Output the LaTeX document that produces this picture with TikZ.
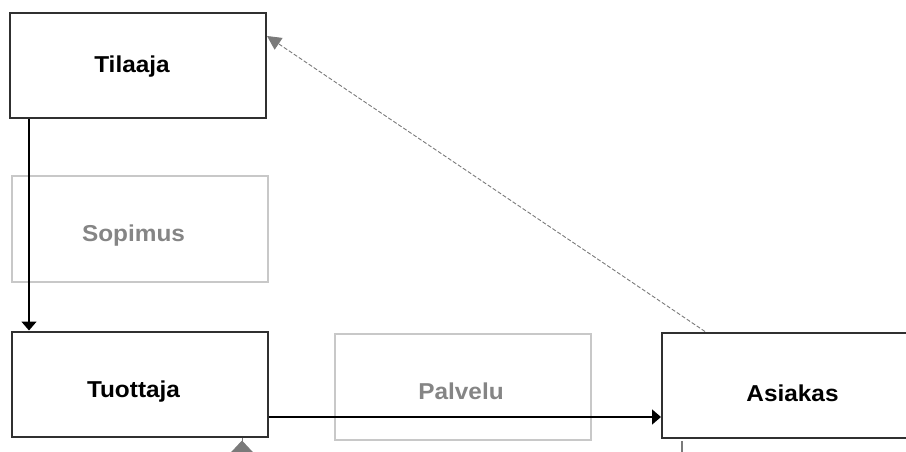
\documentclass[tikz,border=0pt]{standalone}
\usepackage{fontspec}
\setmainfont{Liberation Sans}[FakeStretch=1.06]
\usetikzlibrary{arrows.meta}
\definecolor{boxline}{HTML}{303030}
\definecolor{paleline}{HTML}{C8C8C8}
\definecolor{paletext}{HTML}{858585}
\definecolor{linkgray}{HTML}{7A7A7A}
\tikzset{
  actor/.style={draw=boxline, line width=2pt, fill=white, minimum width=256pt, minimum height=105pt, inner sep=0pt},
  faded/.style={draw=paleline, line width=2pt, minimum width=256pt, minimum height=106pt, inner sep=0pt},
  lbl/.style={font=\fontsize{23}{26}\selectfont\bfseries, text=black, inner sep=0pt, anchor=base},
  fadedlbl/.style={lbl, text=paletext},
  flow/.style={line width=1.6pt, draw=black, -{Triangle[length=9pt, width=15pt]}},
  feedback/.style={line width=0.9pt, draw=linkgray, dash pattern=on 4pt off 2pt, -{Triangle[length=14pt, width=14pt, fill=linkgray]}},
  incoming/.style={line width=1pt, draw=linkgray, -{Triangle[length=14pt, width=26pt, fill=linkgray]}},
  stub/.style={line width=1.2pt, draw=linkgray}
}
\begin{document}
\begin{tikzpicture}[x=1pt, y=-1pt]
  \useasboundingbox (0,0) rectangle (906,452);
  \clip (0,0) rectangle (906,452);

  % faded boxes in the background
  \node[faded] (sopimus) at (140,229) {};
  \node[fadedlbl] (sopimus-t) at (133.5,241.5) {Sopimus};
  \node[faded] (palvelu) at (463,387) {};
  \node[fadedlbl] (palvelu-t) at (461,399) {Palvelu};

  % main parties
  \node[actor] (tilaaja) at (138,65.5) {};
  \node[lbl] (tilaaja-t) at (132,73) {Tilaaja};
  \node[actor] (tuottaja) at (139.5,384) {};
  \node[lbl] (tuottaja-t) at (133.5,397) {Tuottaja};
  \node[actor, minimum width=260pt] (asiakas) at (792,385) {};
  \node[lbl] (asiakas-t) at (792.5,401.5) {Asiakas};

  % connectors
  \draw[flow] (tilaaja.south -| 29,0) -- (tuottaja.north -| 29,0);
  \draw[flow] (tuottaja.east |- 0,417) -- (asiakas.west |- 0,417);
  \draw[feedback] (asiakas.north -| 705,0) -- (tilaaja.east |- 0,36);

  % links leaving the frame at the bottom
  \coordinate (below-tuottaja) at (242,480);
  \draw[incoming] (below-tuottaja) -- (tuottaja.south -| 242,0) ++(0,3);
  \coordinate (asiakas-out) at (682,441);
  \coordinate (asiakas-down) at (682,470);
  \draw[stub] (asiakas-out) -- (asiakas-down);
\end{tikzpicture}
\end{document}
